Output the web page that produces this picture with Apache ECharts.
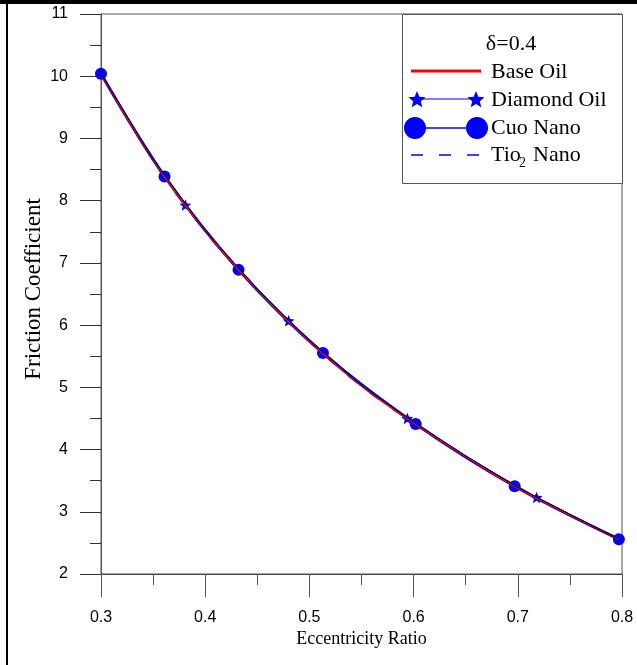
<!DOCTYPE html>
<html><head><meta charset="utf-8">
<script src="https://cdn.jsdelivr.net/npm/echarts@6/dist/echarts.min.js"></script>
<style>html,body{margin:0;padding:0;background:#fff}#c{width:637px;height:665px}</style>
</head><body><div id="c"></div>
<script>
// ---- data ----
const xTickLabels = ['0.3','0.4','0.5','0.6','0.7','0.8'];
const yTickLabels = ['2','3','4','5','6','7','8','9','10','11'];
const baseX  = [0.300, 0.350, 0.400, 0.450, 0.500, 0.550, 0.600, 0.650, 0.700, 0.750, 0.797];
const baseY  = [10.04, 8.655, 7.510, 6.565, 5.740, 5.020, 4.430, 3.890, 3.380, 2.950, 2.560];
const tioX   = [0.300, 0.350, 0.400, 0.450, 0.500, 0.550, 0.600, 0.650, 0.700, 0.750, 0.797];
const tioY   = [10.04, 8.650, 7.505, 6.560, 5.735, 5.015, 4.425, 3.885, 3.375, 2.945, 2.560];
const refX   = [0.300, 0.350, 0.400, 0.450, 0.500, 0.550, 0.600, 0.650, 0.700, 0.750, 0.797];
const refY   = [10.04, 8.660, 7.520, 6.575, 5.750, 5.030, 4.440, 3.900, 3.390, 2.960, 2.565];
const cuoX   = [0.300, 0.361, 0.432, 0.513, 0.602, 0.697, 0.797];
const cuoY   = [10.04, 8.39, 6.89, 5.55, 4.41, 3.41, 2.56];
const diamondX = [0.300, 0.381, 0.480, 0.594, 0.718, 0.797];
const diamondY = [10.04, 7.93, 6.07, 4.50, 3.23, 2.56];
const diamondMarked = [true, true, true, true, true, false];

// ---- helpers ----
function starPts(cx, cy, R, r) {
  const p = [];
  for (let i = 0; i < 10; i++) {
    const a = -Math.PI / 2 + i * Math.PI / 5;
    const rad = i % 2 === 0 ? R : r;
    p.push([cx + rad * Math.cos(a), cy + rad * Math.sin(a)]);
  }
  return p;
}
const sp = starPts(10, 10, 10, 4.4);
const starPath = 'path://M' + sp.map(q => q[0].toFixed(3) + ',' + q[1].toFixed(3)).join('L') + 'Z';

const zip = (xs, ys) => xs.map((x, i) => [x, ys[i]]);
const BLUE = '#0000ff', RED = '#ff0000';
const serif = '"Liberation Serif","Times New Roman",serif';
const sans = '"Liberation Sans",Arial,sans-serif';

const chart = echarts.init(document.getElementById('c'), null, {renderer: 'canvas'});

function txt(x, y, s, size, align) {
  return {type: 'text', x: x, y: y, z: 51,
    style: {text: s, fontFamily: serif, fontSize: size, font: size + 'px ' + serif,
      fill: '#000', textAlign: align || 'left', textVerticalAlign: 'middle'}};
}
const legendX = 402, legendY = 14;
const graphic = [
  {type: 'rect', shape: {x: 0, y: 0, width: 637, height: 4}, style: {fill: '#000'}, z: 100},
  {type: 'rect', shape: {x: 6, y: 0, width: 2, height: 665}, style: {fill: '#000'}, z: 100},
  {type: 'rect', shape: {x: legendX + 0.5, y: legendY + 0.5, width: 220, height: 169}, style: {fill: '#fff', stroke: '#555', lineWidth: 1}, z: 50},
  txt(511, 44, 'δ=0.4', 22, 'center'),
  {type: 'line', shape: {x1: 411, y1: 71, x2: 481, y2: 71}, style: {stroke: RED, lineWidth: 3}, z: 51},
  txt(491, 72, 'Base Oil', 22),
  {type: 'line', shape: {x1: 417, y1: 99, x2: 476, y2: 99}, style: {stroke: BLUE, lineWidth: 1}, z: 51},
  {type: 'polygon', shape: {points: starPts(417, 100, 9, 4)}, style: {fill: BLUE}, z: 52},
  {type: 'polygon', shape: {points: starPts(476, 100, 9, 4)}, style: {fill: BLUE}, z: 52},
  txt(491, 100, 'Diamond Oil', 22),
  {type: 'line', shape: {x1: 415, y1: 128, x2: 477, y2: 128}, style: {stroke: BLUE, lineWidth: 1.5}, z: 51},
  {type: 'circle', shape: {cx: 415, cy: 128, r: 11}, style: {fill: BLUE}, z: 52},
  {type: 'circle', shape: {cx: 477, cy: 128, r: 11}, style: {fill: BLUE}, z: 52},
  txt(491, 128, 'Cuo Nano', 22),
  {type: 'line', shape: {x1: 411, y1: 155, x2: 481, y2: 155}, style: {stroke: BLUE, lineWidth: 1.5, lineDash: [12, 16]}, z: 51},
  txt(491, 155, 'Tio', 22),
  txt(519, 163, '2', 14),
  txt(533, 155, 'Nano', 22)
];

const option = {
  animation: false,
  backgroundColor: '#fff',
  grid: {left: 101, right: 15, top: 14, bottom: 91, show: true, borderColor: '#555', borderWidth: 1, backgroundColor: 'transparent', outerBoundsMode: 'none'},
  xAxis: {
    type: 'value', min: 0.3, max: 0.8, interval: 0.1,
    name: 'Eccentricity Ratio', nameLocation: 'middle', nameGap: 56, nameMoveOverlap: false,
    nameTextStyle: {fontFamily: serif, fontSize: 18, color: '#000'},
    axisLine: {show: true, onZero: false, lineStyle: {color: '#444', width: 1}},
    axisTick: {show: true, inside: false, length: 23, lineStyle: {color: '#555', width: 1}},
    minorTick: {show: true, splitNumber: 2, length: 11, lineStyle: {color: '#555', width: 1}},
    splitLine: {show: false}, minorSplitLine: {show: false},
    axisLabel: {margin: 36, fontFamily: sans, fontSize: 16, color: '#000',
      formatter: v => { const i = Math.round((v - 0.3) * 10); return xTickLabels[i] !== undefined ? xTickLabels[i] : ''; }}
  },
  yAxis: {
    type: 'value', min: 2, max: 11, interval: 1,
    name: 'Friction Coefficient', nameLocation: 'middle', nameGap: 56, nameMoveOverlap: false,
    nameTextStyle: {fontFamily: serif, fontSize: 23, color: '#000', padding: [0, 0, 0, 10]},
    axisLine: {show: true, onZero: false, lineStyle: {color: '#555', width: 1}},
    axisTick: {show: true, inside: false, length: 21, lineStyle: {color: '#333', width: 1}},
    minorTick: {show: true, splitNumber: 2, length: 11, lineStyle: {color: '#333', width: 1}},
    splitLine: {show: false}, minorSplitLine: {show: false},
    axisLabel: {margin: 33, fontFamily: sans, fontSize: 16, color: '#000',
      formatter: v => { const i = Math.round(v - 2); return yTickLabels[i] !== undefined ? yTickLabels[i] : ''; }}
  },
  graphic: graphic,
  series: [
    {name: 'Cuo Nano', type: 'line', data: zip(cuoX, cuoY), smooth: 0.35,
      symbol: 'circle', symbolSize: 12, showAllSymbol: true,
      lineStyle: {color: BLUE, width: 3}, itemStyle: {color: BLUE}, z: 2},
    {name: 'Diamond Oil', type: 'line',
      data: diamondX.map((x, i) => diamondMarked[i] ? [x, diamondY[i]] : {value: [x, diamondY[i]], symbol: 'none'}),
      smooth: 0.35, symbol: starPath, symbolSize: 12, symbolKeepAspect: true, showAllSymbol: true,
      lineStyle: {color: BLUE, width: 1.5}, itemStyle: {color: BLUE}, z: 3},
    {name: 'Tio2 Nano', type: 'line', data: zip(tioX, tioY), smooth: 0.35, symbol: 'none',
      lineStyle: {color: BLUE, width: 1.5, type: [12, 16]}, z: 4},
    {name: 'Base Oil', type: 'line', data: zip(baseX, baseY), smooth: 0.35, symbol: 'none',
      lineStyle: {color: RED, width: 1.5}, z: 5},
    {name: 'Reference', type: 'line', data: zip(refX, refY), smooth: false, symbol: 'none',
      lineStyle: {color: '#000', width: 1}, z: 6}
  ]
};
chart.setOption(option);
</script>
</body></html>
